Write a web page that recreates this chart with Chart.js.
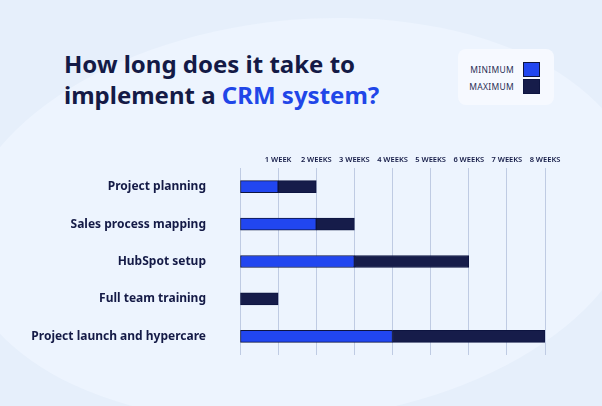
<!DOCTYPE html>
<html><head><meta charset="utf-8">
<script src="https://cdn.jsdelivr.net/npm/chart.js@4"></script>
<style>
html,body{margin:0;padding:0;width:602px;height:406px;overflow:hidden;font-family:"Noto Sans",sans-serif}
body{background:#e6effb;position:relative}
#bg{position:absolute;left:-40px;top:20px;width:680px;height:400px;border-radius:50%;background:#edf4fe;transform:rotate(-6deg)}
h1{position:absolute;left:64px;top:48px;margin:0;font-size:24px;line-height:31px;font-weight:700;color:#141a46}
h1 span{color:#2046e8}
#leg{position:absolute;left:458px;top:49px;width:96px;height:56px;background:#f6f9ff;border-radius:8px}
.r{position:absolute;right:14px;font-size:8.5px;color:#2a2f55;display:flex;align-items:center;letter-spacing:0.3px}
.r i{display:inline-block;width:15px;height:13px;margin-left:9px;border:1px solid #0d1440}
canvas{position:absolute;left:0;top:0}
</style></head><body>
<div id="bg"></div>
<h1>How long does it take to<br>implement a <span>CRM system?</span></h1>
<div id="leg">
<div class="r" style="top:13px">MINIMUM<i style="background:#2146f0"></i></div>
<div class="r" style="top:30px">MAXIMUM<i style="background:#161c4a"></i></div>
</div>
<canvas id="c" width="602" height="406"></canvas>
<script>
const categories=["Project planning","Sales process mapping","HubSpot setup","Full team training","Project launch and hypercare"];
const minWeeks=[1,2,3,0,4];
const maxWeeks=[2,3,6,1,8];
const tickLabels=["","1 WEEK","2 WEEKS","3 WEEKS","4 WEEKS","5 WEEKS","6 WEEKS","7 WEEKS","8 WEEKS"];
new Chart(document.getElementById('c'),{
type:'bar',
data:{labels:categories,datasets:[
{label:'Minimum',data:minWeeks,backgroundColor:'#2146f0',borderColor:'#0d1440',borderWidth:1,borderSkipped:false,barThickness:12},
{label:'Maximum',data:maxWeeks.map((v,i)=>v-minWeeks[i]),backgroundColor:'#161c4a',borderColor:'#0d1440',borderWidth:1,borderSkipped:false,barThickness:12}
]},
options:{indexAxis:'y',responsive:false,animation:false,
layout:{padding:{top:150,right:57,bottom:51,left:0}},
plugins:{legend:{display:false},tooltip:{enabled:false}},
scales:{
x:{position:'top',stacked:true,min:0,max:8,
ticks:{stepSize:1,padding:4,maxRotation:0,minRotation:0,autoSkip:false,color:'#141a46',font:{size:7.5,weight:'600',family:'Noto Sans'},callback:(v)=>tickLabels[v]},
grid:{color:'#bfcbe3',drawTicks:false},border:{display:false},
afterFit:s=>{s.height=18}},
y:{stacked:true,
ticks:{color:'#141a46',padding:26,font:{size:12,weight:'bold',family:'Noto Sans'}},
grid:{display:false},border:{display:false},
afterFit:s=>{s.width=240}}
}}
});
</script>
</body></html>
